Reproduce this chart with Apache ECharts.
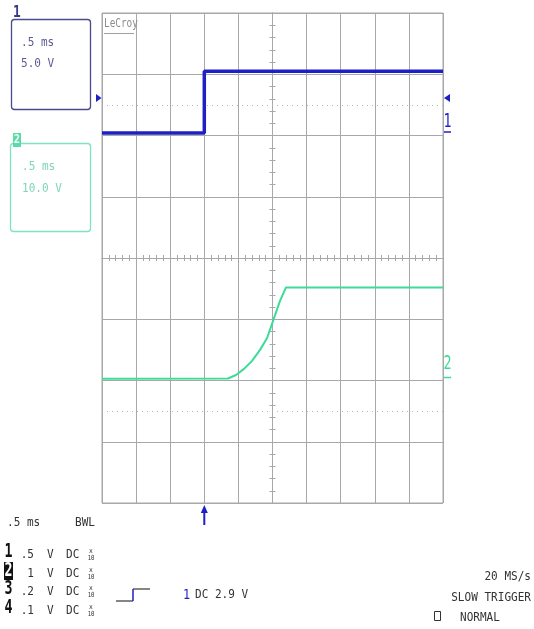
<!DOCTYPE html>
<html><head><meta charset="utf-8">
<script src="https://cdn.jsdelivr.net/npm/echarts@6/dist/echarts.min.js"></script>
<style>html,body{margin:0;padding:0;background:#fff}#c{width:534px;height:629px}</style>
</head><body><div id="c"></div>
<script>
const ch1Time = [-1.5, 0, 0, 3.5];            // ms (trigger at 0)
const ch1Volt = [0.2, 0.2, 5.25, 5.25];       // V
const ch2Time = [-1.5, 0.347, 0.465, 0.582, 0.70, 0.817, 0.919, 1.007, 1.11, 1.198, 3.5];
const ch2Volt = [0.3, 0.33, 0.9, 1.9, 3.2, 5.0, 6.9, 9.7, 13.0, 15.2, 15.2];
const triggerTime = 0;
const triggerLevel = 2.9;
const refLevelsDiv = [2.5, -2.5];
const timeRange = [-1.5, 3.5];
const ch1Range = [-30, 10];   // 5 V/div
const ch2Range = [-20, 60];   // 10 V/div
const chanNames = ['1', '2', '3', '4'];
const chanVdiv = ['.5', '1', '.2', '.1'];
const chanCoupling = ['DC', 'DC', 'DC', 'DC'];
const timebase = '.5 ms';
const ch1Box = ['.5 ms', '5.0 V'];
const ch2Box = ['.5 ms', '10.0 V'];
const rightInfo = ['20 MS/s', 'SLOW TRIGGER', 'NORMAL'];

const C1 = '#1f1fc6', C2 = '#3cdc98', GRIDC = '#a8a8a8';
const MONO = '"DejaVu Sans Mono", monospace';

const chart = echarts.init(document.getElementById('c'), null, {renderer: 'canvas'});

function gridAxis(pos, min, max, interval) {
  return {
    type: 'value', min: min, max: max, interval: interval, position: pos,
    axisLine: {show: true, onZero: true, onZeroAxisIndex: 0, lineStyle: {color: GRIDC, width: 1}},
    axisTick: {show: true, length: 3, lineStyle: {color: GRIDC}},
    minorTick: {show: true, splitNumber: 5, length: 3, lineStyle: {color: GRIDC}},
    axisLabel: {show: false},
    splitLine: {show: true, lineStyle: {color: GRIDC, width: 1}},
    minorSplitLine: {show: false}
  };
}
const hidden = (min, max) => ({type: 'value', min: min, max: max, show: false, axisLine: {onZero: false}});

chart.setOption({
  animation: false,
  backgroundColor: '#fff',
  grid: {left: 102, top: 13, width: 341, height: 490, containLabel: false,
         show: true, borderColor: GRIDC, borderWidth: 1},
  xAxis: [gridAxis('bottom', -5, 5, 1), gridAxis('top', -5, 5, 1), hidden(timeRange[0], timeRange[1])],
  yAxis: [gridAxis('left', -4, 4, 1), gridAxis('right', -4, 4, 1), hidden(ch1Range[0], ch1Range[1]), hidden(ch2Range[0], ch2Range[1])],
  series: [
    {type: 'line', xAxisIndex: 0, yAxisIndex: 0, data: [], silent: true,
     markLine: {silent: true, symbol: 'none', label: {show: false},
       lineStyle: {color: '#b4b4b4', type: [1, 4], width: 1},
       data: refLevelsDiv.map(v => ({yAxis: v}))}},
    {type: 'line', name: 'CH2', xAxisIndex: 2, yAxisIndex: 3, showSymbol: false, symbol: 'none',
     data: ch2Time.map((t, i) => [t, ch2Volt[i]]), lineStyle: {color: C2, width: 2}},
    {type: 'line', name: 'CH1', xAxisIndex: 2, yAxisIndex: 2, showSymbol: false, symbol: 'none',
     data: ch1Time.map((t, i) => [t, ch1Volt[i]]), lineStyle: {color: C1, width: 3.5}}
  ]
});

function txt(x, y, s, o) {
  o = o || {};
  return {type: 'text', x: x, y: y, scaleX: o.sx || 0.85, silent: true, z: 10,
    style: {text: s, font: (o.bold ? 'bold ' : '') + (o.size || 13) + 'px ' + MONO,
      fill: o.fill || '#333', align: o.align || 'left', verticalAlign: 'middle'}};
}
function line(pts, color, w) {
  return {type: 'polyline', silent: true, z: 10, shape: {points: pts}, style: {stroke: color, lineWidth: w || 1, fill: null}};
}

const g = [];
// channel 1 box
g.push({type: 'rect', silent: true, shape: {x: 11.5, y: 19.5, width: 79, height: 90, r: 3}, style: {fill: 'none', stroke: '#4a4a8e', lineWidth: 1.3}});
g.push(txt(13, 13, '1', {bold: true, size: 16, fill: '#3a3a8a', sx: 0.8}));
g.push(txt(21, 43, ch1Box[0], {fill: '#5c5c92'}));
g.push(txt(21, 64, ch1Box[1], {fill: '#5c5c92'}));
// channel 2 box
g.push({type: 'rect', silent: true, shape: {x: 10.5, y: 143.5, width: 80, height: 88, r: 3}, style: {fill: 'none', stroke: '#7fe3c0', lineWidth: 1.3}});
g.push({type: 'rect', silent: true, z: 9, shape: {x: 13, y: 133, width: 8, height: 14}, style: {fill: '#5cd9a8'}});
g.push(txt(17, 140, '2', {bold: true, size: 13, fill: '#e9fff6', align: 'center', sx: 0.8}));
g.push(txt(22, 167, ch2Box[0], {fill: '#7fd6b8'}));
g.push(txt(22, 189, ch2Box[1], {fill: '#7fd6b8'}));
// LeCroy logo
g.push(txt(104, 24, 'LeCroy', {size: 12, fill: '#8c8c8c', sx: 0.78}));
g.push(line([[104, 33.5], [134, 33.5]], '#a0a0a0', 1));
// bottom-left settings
g.push(txt(7, 522.5, timebase));
g.push(txt(75, 522.5, 'BWL'));
const rowY = [552, 571, 589, 608];
chanNames.forEach((n, i) => {
  const y = rowY[i];
  if (i === 1) {
    g.push({type: 'rect', silent: true, z: 9, shape: {x: 4, y: y - 9, width: 9, height: 18}, style: {fill: '#111'}});
    g.push(txt(8.5, y, n, {bold: true, size: 19, fill: '#fff', align: 'center', sx: 0.7}));
  } else {
    g.push(txt(8.5, y, n, {bold: true, size: 19, fill: '#111', align: 'center', sx: 0.7}));
  }
  g.push(txt(34, y + 3, chanVdiv[i], {align: 'right'}));
  g.push(txt(47, y + 3, 'V'));
  g.push(txt(66, y + 3, chanCoupling[i]));
  g.push(txt(91, y - 1, 'x', {size: 7, align: 'center', sx: 0.9}));
  g.push(txt(91, y + 6, '10', {size: 7, align: 'center', sx: 0.8}));
});
// trigger icon + level
g.push(line([[116, 601], [133, 601]], '#333', 1.2));
g.push(line([[133, 601], [133, 589]], C1, 1.5));
g.push(line([[133, 589], [150, 589]], '#333', 1.2));
g.push(txt(183, 595, '1', {fill: C1, size: 14}));
g.push(txt(195, 595, 'DC ' + triggerLevel + ' V'));
// right info
g.push(txt(531, 577, rightInfo[0], {align: 'right'}));
g.push(txt(531, 598, rightInfo[1], {align: 'right'}));
g.push({type: 'rect', silent: true, shape: {x: 434.5, y: 611.5, width: 6, height: 9}, style: {fill: 'none', stroke: '#333', lineWidth: 1}});
g.push(txt(460, 618, rightInfo[2]));

// markers derived from data via the axes
const pTrig = chart.convertToPixel({xAxisIndex: 2, yAxisIndex: 2}, [triggerTime, triggerLevel]);
const pG1 = chart.convertToPixel({xAxisIndex: 2, yAxisIndex: 2}, [triggerTime, 0]);
const pG2 = chart.convertToPixel({xAxisIndex: 2, yAxisIndex: 3}, [triggerTime, 0]);
const yT = pTrig[1] - 2;
g.push({type: 'polygon', silent: true, z: 10, shape: {points: [[96, yT - 4], [96, yT + 4], [101.5, yT]]}, style: {fill: C1}});
g.push({type: 'polygon', silent: true, z: 10, shape: {points: [[444, yT], [450, yT - 4], [450, yT + 4]]}, style: {fill: C1}});
g.push(txt(447.5, pG1[1] - 13, '1', {fill: C1, size: 19, align: 'center', sx: 0.7}));
g.push(line([[444, pG1[1] - 3.5], [451, pG1[1] - 3.5]], C1, 1.5));
g.push(txt(447.5, pG2[1] - 16, '2', {fill: C2, size: 19, align: 'center', sx: 0.7}));
g.push(line([[444, pG2[1] - 3], [451, pG2[1] - 3]], C2, 1.5));
// trigger-time arrow under grid
const xT = pTrig[0];
g.push(line([[xT, 510], [xT, 525]], C1, 2));
g.push({type: 'polygon', silent: true, z: 10, shape: {points: [[xT - 3.5, 513], [xT + 3.5, 513], [xT, 505]]}, style: {fill: C1}});

chart.setOption({graphic: {elements: g}});
</script></body></html>
